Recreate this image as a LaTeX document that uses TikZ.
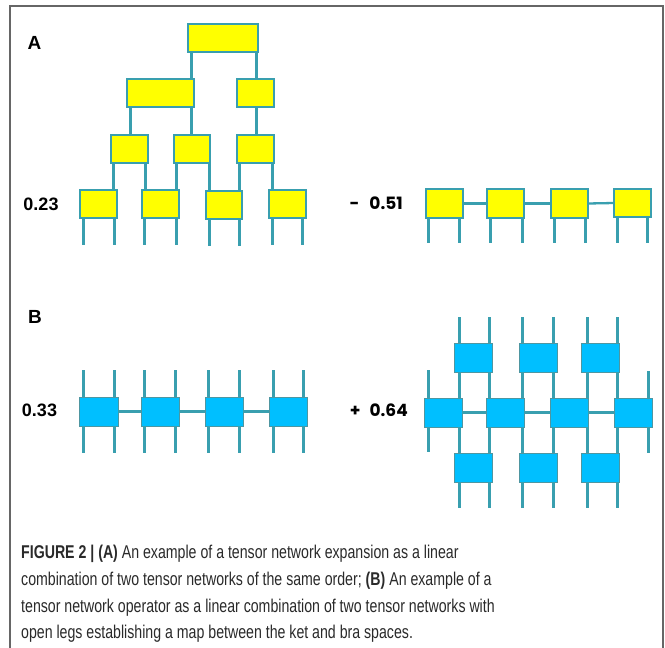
\documentclass[tikz,border=0pt]{standalone}
\usepackage{fontspec}
\setmainfont{Liberation Sans}
\newfontfamily\capfont[FakeStretch=0.765]{Liberation Sans}
\newfontfamily\numfont{Poppins}
\definecolor{teal1}{HTML}{399FAF}
\definecolor{yel}{HTML}{FFFF00}
\definecolor{sky}{HTML}{00BFFF}
\definecolor{framec}{HTML}{666666}
\definecolor{capc}{HTML}{2A2A2A}
\tikzset{
  tbox/.style={draw=teal1, line width=2pt, fill=yel, inner sep=0pt, outer sep=0pt, minimum height=28pt},
  bbox/.style={draw=teal1!70!gray, line width=1pt, fill=sky, inner sep=0pt, outer sep=0pt, minimum height=29pt},
  leg/.style={draw=teal1, line width=3pt},
  bond/.style={draw=teal1, line width=2.3pt},
  frame/.style={draw=framec, line width=1.6pt},
  lab/.style={font=\bfseries\fontsize{19}{19}\selectfont, inner sep=0pt},
  num/.style={font=\bfseries\fontsize{18}{18}\selectfont, inner sep=0pt},
  capline/.style={anchor=base west, inner sep=0pt, text=capc, font=\capfont\fontsize{18.5}{20}\selectfont}
}
% legs: #1 box, #2 x, #3 y of free end
\newcommand\legD[3]{\coordinate (#1d#2) at (#2,#3); \draw[leg] (#1.south -| #1d#2) -- (#1d#2);}
\newcommand\legU[3]{\coordinate (#1u#2) at (#2,#3); \draw[leg] (#1.north -| #1u#2) -- (#1u#2);}
\newcommand\tlink[3]{\coordinate (g#3) at (#3,0); \draw[leg] (#1.south -| g#3) -- (#2.north -| g#3);}
\begin{document}
\begin{tikzpicture}[x=1pt,y=-1pt]
\useasboundingbox (0,0) rectangle (665,648);
\fill[white] (0,0) rectangle (665,648);
\draw[frame] (10,652) -- (10,6) -- (663,6) -- (663,652);

% ---------- Part A ----------
\node[lab] (labA) at (34.5,42.5) {A};
\node[num] (n023) at (41,204) {0.23};

\node[tbox, minimum width=70pt] (T0) at (223,38) {};
\node[tbox, minimum width=67pt] (L2a) at (160.5,93) {};
\node[tbox, minimum width=37pt] (L2b) at (255.5,93) {};
\node[tbox, minimum width=37pt] (L3a) at (129.5,149) {};
\node[tbox, minimum width=36pt] (L3b) at (192,149) {};
\node[tbox, minimum width=37pt] (L3c) at (255.5,149) {};
\node[tbox, minimum width=37pt] (L4a) at (98.5,204) {};
\node[tbox, minimum width=37pt] (L4b) at (160.5,204) {};
\node[tbox, minimum width=36pt] (L4c) at (224,205) {};
\node[tbox, minimum width=37pt] (L4d) at (287.5,204) {};

\tlink{T0}{L2a}{191}
\tlink{T0}{L2b}{256}
\tlink{L2a}{L3a}{130}
\tlink{L2a}{L3b}{191}
\tlink{L2b}{L3c}{256}
\tlink{L3a}{L4a}{113}
\tlink{L3a}{L4b}{145}
\tlink{L3b}{L4b}{176}
\tlink{L3b}{L4c}{209}
\tlink{L3c}{L4c}{239}
\tlink{L3c}{L4d}{272}
\legD{L4a}{83}{245}\legD{L4a}{114}{245}
\legD{L4b}{144}{245}\legD{L4b}{176}{245}
\legD{L4c}{209}{246}\legD{L4c}{239}{246}
\legD{L4d}{272}{245}\legD{L4d}{302}{245}

% MPS in A
\node[num, font=\numfont\bfseries\fontsize{17}{17}\selectfont, anchor=east] (n051) at (403,203) {-\hspace{10pt}0.51};
\node[tbox, minimum width=37pt, minimum height=29pt] (M1) at (444.5,203.5) {};
\node[tbox, minimum width=37pt, minimum height=29pt] (M2) at (505.5,203.5) {};
\node[tbox, minimum width=37pt, minimum height=29pt] (M3) at (569.5,203.5) {};
\node[tbox, minimum width=37pt, minimum height=28pt] (M4) at (632.5,203) {};
\draw[bond] (M1.east) -- (M2.west);
\draw[bond] (M2.east) -- (M3.west);
\draw[bond] (M3.east) -- (M4.west);
\legD{M1}{428}{243}\legD{M1}{459}{243}
\legD{M2}{490}{243}\legD{M2}{522}{243}
\legD{M3}{554}{243}\legD{M3}{585}{243}
\legD{M4}{617}{243}\legD{M4}{647}{243}

% ---------- Part B ----------
\node[lab] (labB) at (35,317) {B};
\node[num] (n033) at (39.5,410) {0.33};

\node[bbox, minimum width=39pt] (P1) at (98.5,411.5) {};
\node[bbox, minimum width=38pt] (P2) at (160,411.5) {};
\node[bbox, minimum width=38pt] (P3) at (224,411.5) {};
\node[bbox, minimum width=38pt] (P4) at (288,411.5) {};
\draw[bond] (P1.east) -- (P2.west);
\draw[bond] (P2.east) -- (P3.west);
\draw[bond] (P3.east) -- (P4.west);
\legU{P1}{83}{370}\legU{P1}{114}{370}\legD{P1}{83}{453}\legD{P1}{114}{453}
\legU{P2}{144}{370}\legU{P2}{175}{370}\legD{P2}{144}{453}\legD{P2}{175}{453}
\legU{P3}{208}{370}\legU{P3}{239}{370}\legD{P3}{208}{453}\legD{P3}{239}{453}
\legU{P4}{273}{370}\legU{P4}{303}{370}\legD{P4}{273}{453}\legD{P4}{303}{453}

% MPO
\node[num, font=\numfont\bfseries\fontsize{17}{17}\selectfont, anchor=east] (n064) at (408,410) {+\hspace{9pt}0.64};
\node[bbox, minimum width=38pt] (Q1) at (443,412.5) {};
\node[bbox, minimum width=38pt] (Q2) at (505,412.5) {};
\node[bbox, minimum width=38pt] (Q3) at (569,412.5) {};
\node[bbox, minimum width=38pt] (Q4) at (633,412.5) {};
\node[bbox, minimum width=38pt] (U1) at (473,357.5) {};
\node[bbox, minimum width=38pt] (U2) at (538,357.5) {};
\node[bbox, minimum width=38pt] (U3) at (600,357.5) {};
\node[bbox, minimum width=38pt] (D1) at (473,467.5) {};
\node[bbox, minimum width=38pt] (D2) at (538,467.5) {};
\node[bbox, minimum width=38pt] (D3) at (600,467.5) {};
\draw[bond] (Q1.east) -- (Q2.west);
\draw[bond] (Q2.east) -- (Q3.west);
\draw[bond] (Q3.east) -- (Q4.west);
% top legs
\legU{U1}{459}{317}\legU{U1}{489}{317}
\legU{U2}{522}{317}\legU{U2}{553}{317}
\legU{U3}{587}{317}\legU{U3}{617}{317}
% top row to middle row
\tlink{U1}{Q1}{459}
\tlink{U1}{Q2}{489}
\tlink{U2}{Q2}{522}
\tlink{U2}{Q3}{553}
\tlink{U3}{Q3}{587}
\tlink{U3}{Q4}{617}
% middle row to bottom row
\tlink{Q1}{D1}{459}
\tlink{Q2}{D1}{489}
\tlink{Q2}{D2}{522}
\tlink{Q3}{D2}{553}
\tlink{Q3}{D3}{587}
\tlink{Q4}{D3}{617}
% outer legs
\legU{Q1}{428}{370}\legD{Q1}{428}{452}
\legU{Q4}{648}{371}\legD{Q4}{648}{453}
% bottom legs
\legD{D1}{459}{508}\legD{D1}{489}{508}
\legD{D2}{522}{508}\legD{D2}{553}{508}
\legD{D3}{587}{508}\legD{D3}{617}{508}

% ---------- Caption ----------
\node[capline] (c1) at (21,558) {\textbf{FIGURE 2 | (A)} An example of a tensor network expansion as a linear};
\node[capline] (c2) at (21,585) {combination of two tensor networks of the same order; \textbf{(B)} An example of a};
\node[capline] (c3) at (21,612) {tensor network operator as a linear combination of two tensor networks with};
\node[capline] (c4) at (21,638) {open legs establishing a map between the ket and bra spaces.};
\end{tikzpicture}
\end{document}
